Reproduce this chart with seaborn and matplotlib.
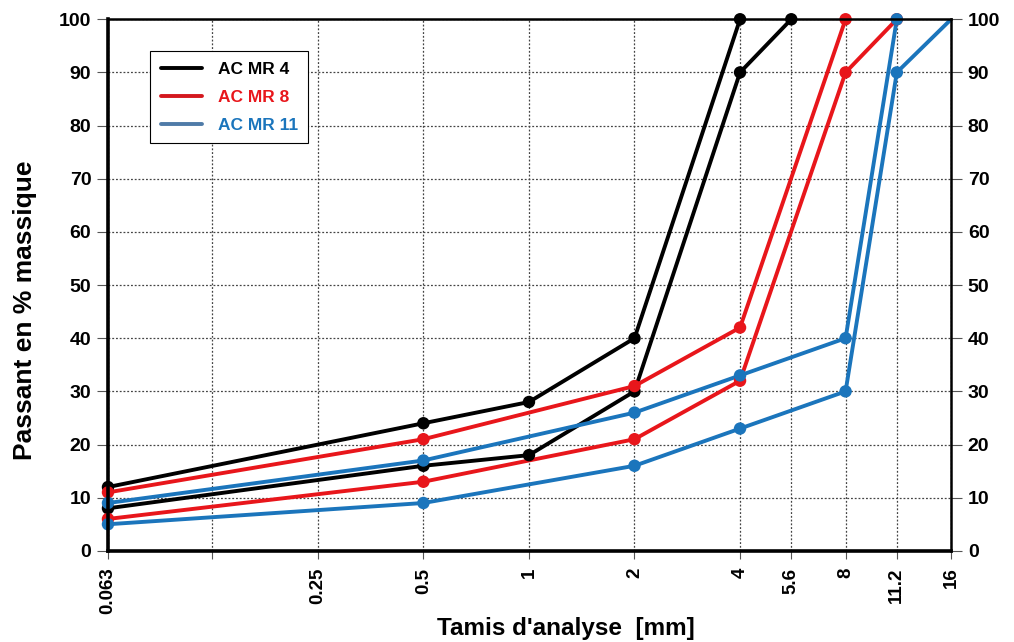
import matplotlib
matplotlib.use("Agg")
import matplotlib.pyplot as plt
import seaborn as sns
import pandas as pd
from matplotlib.lines import Line2D

# ---- data ----
mr4_up_x = [0.063, 0.5, 1, 2, 4]
mr4_up_y = [12, 24, 28, 40, 100]
mr4_lo_x = [0.063, 0.5, 1, 2, 4, 5.6]
mr4_lo_y = [8, 16, 18, 30, 90, 100]

mr8_up_x = [0.063, 0.5, 2, 4, 8]
mr8_up_y = [11, 21, 31, 42, 100]
mr8_lo_x = [0.063, 0.5, 2, 4, 8, 11.2]
mr8_lo_y = [6, 13, 21, 32, 90, 100]

mr11_up_x = [0.063, 0.5, 2, 4, 8, 11.2]
mr11_up_y = [9, 17, 26, 33, 40, 100]
mr11_lo_x = [0.063, 0.5, 2, 4, 8, 11.2, 16]
mr11_lo_y = [5, 9, 16, 23, 30, 90, 100]

mixes = ["AC MR 4", "AC MR 8", "AC MR 11"]
tick_values = [0.063, 0.125, 0.25, 0.5, 1, 2, 4, 5.6, 8, 11.2, 16]
tick_labels = ["0.063", "", "0.25", "0.5", "1", "2", "4", "5.6", "8", "11.2", "16"]
y_ticks = list(range(0, 101, 10))

colors = {"AC MR 4": "#000000", "AC MR 8": "#E8161B", "AC MR 11": "#1B75BC"}
legend_line_colors = {"AC MR 4": "#000000", "AC MR 8": "#D4181E", "AC MR 11": "#4F7BA8"}

rows = []
for mix, bound, xs, ys in [
    ("AC MR 4", "up", mr4_up_x, mr4_up_y),
    ("AC MR 4", "lo", mr4_lo_x, mr4_lo_y),
    ("AC MR 8", "up", mr8_up_x, mr8_up_y),
    ("AC MR 8", "lo", mr8_lo_x, mr8_lo_y),
    ("AC MR 11", "up", mr11_up_x, mr11_up_y),
    ("AC MR 11", "lo", mr11_lo_x, mr11_lo_y),
]:
    for x, y in zip(xs, ys):
        rows.append({"size": x, "pass": y, "mix": mix, "curve": mix + bound})
df = pd.DataFrame(rows)

sns.set_style("white")
plt.rcParams["font.family"] = ["Liberation Sans", "DejaVu Sans"]
plt.rcParams["font.weight"] = "bold"
plt.rcParams["text.color"] = "black"
plt.rcParams["axes.labelcolor"] = "black"
plt.rcParams["xtick.color"] = "black"
plt.rcParams["ytick.color"] = "black"

fig, ax = plt.subplots(figsize=(10.14, 6.42), dpi=100)
fig.subplots_adjust(left=0.1065, right=0.938, top=0.970, bottom=0.142)

sns.lineplot(data=df, x="size", y="pass", hue="mix", units="curve",
             estimator=None, palette=colors, hue_order=mixes, linewidth=2.8,
             sort=False, legend=False, ax=ax, zorder=3)
pts = df[df["size"] < 16]
sns.scatterplot(data=pts, x="size", y="pass", hue="mix", palette=colors,
                hue_order=mixes, s=80, edgecolor="none", legend=False, ax=ax,
                zorder=4, clip_on=False)

ax.set_xscale("log")
ax.set_xlim(0.063, 16)
ax.set_ylim(0, 100)
ax.set_xticks(tick_values)
ax.set_xticklabels(tick_labels, rotation=90, fontsize=13.5, fontweight="bold")
ax.xaxis.set_minor_locator(matplotlib.ticker.NullLocator())
ax.set_yticks(y_ticks)
ax.set_yticklabels([str(v) for v in y_ticks], fontsize=14, fontweight="bold")
ax.tick_params(axis="y", which="both", left=True, right=True, labelright=True,
               length=8, width=0.8, color="#555555", pad=4, labelsize=14)
ax.tick_params(axis="x", bottom=True, length=6, width=0.8, color="#555555", pad=6)

ax.grid(True, which="major", linestyle=(0, (1.5, 1.5)), color="#444444", linewidth=0.9)
ax.set_axisbelow(True)

for side in ["left", "bottom"]:
    ax.spines[side].set_linewidth(2.6)
for side in ["top", "right"]:
    ax.spines[side].set_linewidth(1.8)
for sp in ax.spines.values():
    sp.set_color("black")
    sp.set_zorder(5)

ax.set_xlabel("Tamis d'analyse  [mm]", fontsize=17.5, fontweight="bold")
ax.set_ylabel("Passant en % massique", fontsize=19, fontweight="bold")
ax.xaxis.set_label_coords(0.543, -0.124)
ax.yaxis.set_label_coords(-0.084, 0.453)

handles = [Line2D([0], [0], color=legend_line_colors[m], linewidth=2.8) for m in mixes]
leg = ax.legend(handles, mixes, loc="upper left", bbox_to_anchor=(0.05, 0.94),
                frameon=True, fancybox=False, edgecolor="black", framealpha=1,
                fontsize=12.5, handlelength=2.4, handletextpad=0.9,
                borderpad=0.6, labelspacing=0.75, borderaxespad=0)
leg.get_frame().set_linewidth(0.8)
for txt, m in zip(leg.get_texts(), mixes):
    txt.set_color(colors[m])
    txt.set_fontweight("bold")

fig.savefig("out.png", dpi=100)
